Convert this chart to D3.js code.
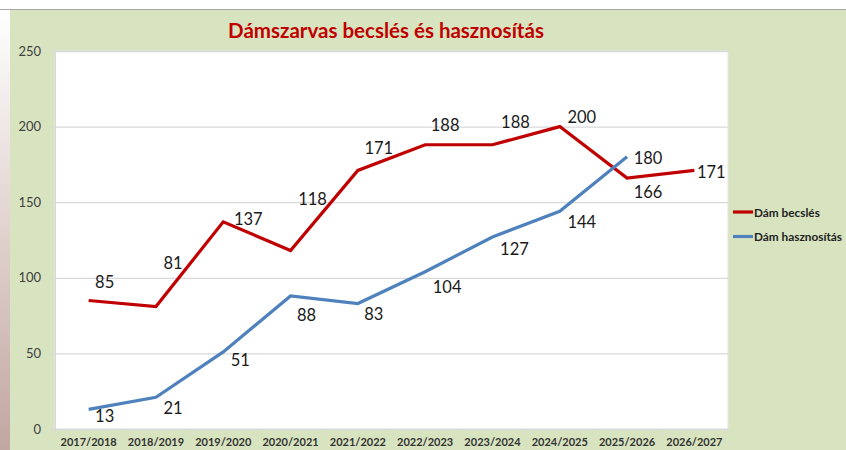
<!DOCTYPE html>
<html>
<head>
<meta charset="utf-8">
<script src="https://cdn.jsdelivr.net/npm/d3@7"></script>
<style>
  html, body { margin: 0; padding: 0; background: #fff; }
  svg { display: block; font-family: Lato, "Open Sans", sans-serif; }
</style>
</head>
<body>
<div id="chart"></div>
<script>
// adatok
const seasons = ["2017/2018", "2018/2019", "2019/2020", "2020/2021", "2021/2022",
                 "2022/2023", "2023/2024", "2024/2025", "2025/2026", "2026/2027"];
const becsles = [85, 81, 137, 118, 171, 188, 188, 200, 166, 171];
const hasznositas = [13, 21, 51, 88, 83, 104, 127, 144, 180];
const yTicks = [0, 50, 100, 150, 200, 250];

// cimkek eltolasa (kezzel igazitva, mint az Excelben)
const becslesLabelOffset = [[16, -18], [17, -44], [25, -3], [22, -52], [21, -22],
                            [20, -20], [23, -23], [22, -10], [21, 14], [17, 2]];
const hasznLabelOffset = [[16, 7], [17, 11], [17, 8], [16, 19], [16, 10],
                          [22, 15], [22, 12], [22, 11], [21, 1]];

const width = 846, height = 450;
const plot = { left: 55, right: 728, top: 51, bottom: 429 };

const svg = d3.select("#chart").append("svg")
    .attr("width", width).attr("height", height);

// hatter
const defs = svg.append("defs");
const grad = defs.append("linearGradient").attr("id", "leftStrip")
    .attr("x1", 0).attr("y1", 0).attr("x2", 0).attr("y2", 1);
grad.append("stop").attr("offset", "0%").attr("stop-color", "#ffffff");
grad.append("stop").attr("offset", "100%").attr("stop-color", "#c2a6a1");

svg.append("rect").attr("x", 0).attr("y", 0).attr("width", width).attr("height", height).attr("fill", "#fff");
svg.append("rect").attr("x", 0).attr("y", 10).attr("width", 10).attr("height", height - 10).attr("fill", "url(#leftStrip)");
svg.append("rect").attr("x", 10).attr("y", 10).attr("width", width - 10).attr("height", height - 10).attr("fill", "#d8e4bf");
svg.append("line").attr("x1", 0).attr("x2", width).attr("y1", 9.5).attr("y2", 9.5)
    .attr("stroke", "#a6a6a6").attr("stroke-width", 1);

svg.append("rect")
    .attr("x", plot.left).attr("y", plot.top)
    .attr("width", plot.right - plot.left).attr("height", plot.bottom - plot.top)
    .attr("fill", "#fff").attr("stroke", "#e3e3e3");

const x = d3.scaleBand().domain(seasons).range([plot.left, plot.right]);
const y = d3.scaleLinear().domain([0, 250]).range([plot.bottom, plot.top]);
const cx = (d, i) => x(seasons[i]) + x.bandwidth() / 2;

// racsvonalak
svg.append("g").selectAll("line").data(yTicks.filter(t => t > 0)).join("line")
    .attr("x1", plot.left).attr("x2", plot.right)
    .attr("y1", d => y(d) + 0.5).attr("y2", d => y(d) + 0.5)
    .attr("stroke", "#d9d9d9").attr("stroke-width", 1.3);

// y tengely
const yAxis = svg.append("g").attr("transform", `translate(${plot.left},0)`)
    .call(d3.axisLeft(y).tickValues(yTicks).tickSize(5).tickPadding(9));
yAxis.select(".domain").attr("stroke", "#d9d9d9");
yAxis.selectAll(".tick line").attr("stroke", "#d9d9d9");
yAxis.selectAll("text").attr("fill", "#404040").style("font-size", "13px")
    .style("font-family", "Lato, sans-serif");

// x tengely
const xAxis = svg.append("g").attr("transform", `translate(0,${plot.bottom})`)
    .call(d3.axisBottom(x).tickSize(0).tickPadding(9));
xAxis.select(".domain").attr("stroke", "#d9d9d9").attr("stroke-width", 1.3);
xAxis.selectAll("text").attr("fill", "#333").style("font-size", "11px")
    .style("font-weight", "bold").style("font-family", "Lato, sans-serif");
svg.append("g").selectAll("line").data(d3.range(seasons.length + 1)).join("line")
    .attr("x1", i => plot.left + i * x.step()).attr("x2", i => plot.left + i * x.step())
    .attr("y1", plot.bottom).attr("y2", plot.bottom + 4)
    .attr("stroke", "#d9d9d9");

// vonalak
const line = d3.line().x(cx).y(d => y(d));

svg.append("path").datum(becsles).attr("d", line)
    .attr("fill", "none").attr("stroke", "#c00000").attr("stroke-width", 3.2)
    .attr("stroke-linejoin", "miter");
svg.append("path").datum(hasznositas).attr("d", line)
    .attr("fill", "none").attr("stroke", "#4f81bd").attr("stroke-width", 3.2)
    .attr("stroke-linejoin", "miter");

// adatcimkek
function labels(values, offsets) {
    svg.append("g").selectAll("text").data(values).join("text")
        .attr("x", (d, i) => cx(d, i) + offsets[i][0])
        .attr("y", (d, i) => y(d) + offsets[i][1])
        .attr("text-anchor", "middle").attr("dominant-baseline", "central")
        .attr("fill", "#1a1a1a").style("font-size", "16.5px")
        .text(d => d);
}
labels(becsles, becslesLabelOffset);
labels(hasznositas, hasznLabelOffset);

// cim
svg.append("text").attr("x", 386).attr("y", 38).attr("text-anchor", "middle")
    .attr("fill", "#c00000").style("font-size", "20.5px").style("font-weight", "bold")
    .text("Dámszarvas becslés és hasznosítás");

// jelmagyarazat
const legend = [
    { name: "Dám becslés", color: "#c00000" },
    { name: "Dám hasznosítás", color: "#4f81bd" }
];
const lg = svg.append("g").selectAll("g").data(legend).join("g")
    .attr("transform", (d, i) => `translate(733,${212 + i * 24.5})`);
lg.append("line").attr("x1", 0).attr("x2", 20).attr("y1", 0).attr("y2", 0)
    .attr("stroke", d => d.color).attr("stroke-width", 3.2);
lg.append("text").attr("x", 21).attr("y", 0).attr("dominant-baseline", "central")
    .attr("fill", "#222").style("font-size", "11.8px").style("font-weight", "bold")
    .text(d => d.name);
</script>
</body>
</html>
